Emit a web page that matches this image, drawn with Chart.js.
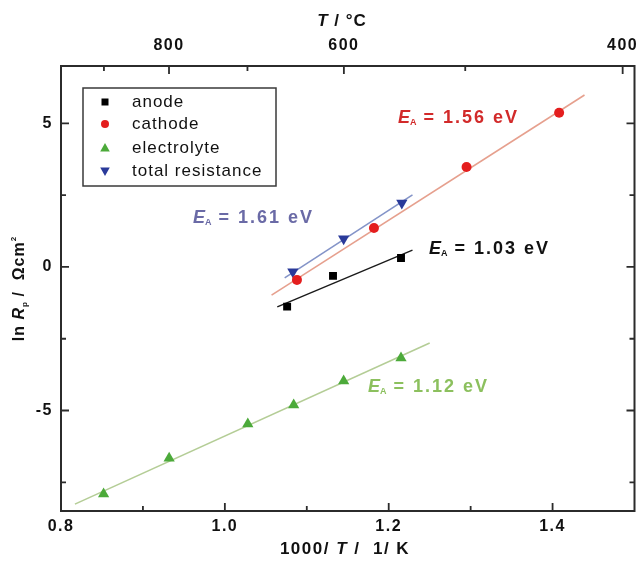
<!DOCTYPE html>
<html>
<head>
<meta charset="utf-8">
<script src="https://cdn.jsdelivr.net/npm/chart.js@4/dist/chart.umd.min.js"></script>
<style>
  html, body { margin: 0; padding: 0; background: #ffffff; }
  #c { display: block; }
</style>
</head>
<body>
<canvas id="c" width="641" height="561"></canvas>
<script>
// ---------- data ----------
const anodeX = [1.076, 1.132, 1.215];
const anodeY = [-1.38, -0.31, 0.31];
const cathodeX = [1.088, 1.182, 1.295, 1.408];
const cathodeY = [-0.45, 1.36, 3.48, 5.37];
const electrolyteX = [0.852, 0.932, 1.028, 1.084, 1.145, 1.215];
const electrolyteY = [-7.91, -6.66, -5.47, -4.81, -3.97, -3.17];
const totalX = [1.083, 1.145, 1.216];
const totalY = [-0.17, 0.98, 2.23];

// fitted lines (end points)
const anodeFitX = [1.064, 1.229];
const anodeFitY = [-1.39, 0.59];
const cathodeFitX = [1.057, 1.439];
const cathodeFitY = [-0.98, 5.99];
const electrolyteFitX = [0.817, 1.250];
const electrolyteFitY = [-8.26, -2.65];
const totalFitX = [1.073, 1.229];
const totalFitY = [-0.38, 2.51];

const seriesLabels = ['anode', 'cathode', 'electrolyte', 'total resistance'];
const eaLabels = ['1.03', '1.56', '1.12', '1.61'];

// axis ticks
const xTickValues = [0.8, 1.0, 1.2, 1.4];
const xMinorTicks = [0.9, 1.1, 1.3];
const yTickValues = [-5, 0, 5];
const yMinorTicks = [-7.5, -2.5, 2.5];
const topTickCelsius = [900, 800, 700, 600, 500, 400];
const topLabelCelsius = [800, 600, 400];

const pts = (xs, ys) => xs.map((x, i) => ({ x: x, y: ys[i] }));

const COLORS = {
  anode: '#000000', anodeLine: '#1a1a1a', anodeText: '#111111',
  cathode: '#e41e1e', cathodeLine: '#e6a08e', cathodeText: '#d22a2a',
  electrolyte: '#4caa3a', electrolyteLine: '#b4cd96', electrolyteText: '#8cc05e',
  total: '#2a3a9a', totalLine: '#8494c8', totalText: '#6a6aa6'
};

const FONT = '"Liberation Sans", Arial, sans-serif';

function drawRuns(ctx, runs, x, y, align) {
  let total = 0;
  runs.forEach(r => {
    ctx.font = r.font;
    ctx.letterSpacing = r.ls || '0px';
    r.w = ctx.measureText(r.t).width;
    total += r.w;
  });
  let cx = align === 'center' ? x - total / 2 : x;
  ctx.textAlign = 'left';
  runs.forEach(r => {
    ctx.font = r.font;
    ctx.letterSpacing = r.ls || '0px';
    ctx.fillText(r.t, cx, y + (r.dy || 0));
    cx += r.w;
  });
  ctx.letterSpacing = '0px';
}

const decorPlugin = {
  id: 'decor',
  beforeDraw(chart) {
    chart.ctx.letterSpacing = '1.5px';
  },
  afterDatasetsDraw(chart) {
    const ctx = chart.ctx;
    const a = chart.chartArea;
    const xs = chart.scales.x, ys = chart.scales.y, xt = chart.scales.x2;
    ctx.save();
    ctx.letterSpacing = '0px';
    // frame
    ctx.strokeStyle = '#2b2b2b';
    ctx.lineWidth = 2;
    ctx.strokeRect(a.left, a.top, a.right - a.left, a.bottom - a.top);
    // inward ticks
    ctx.lineWidth = 1.8;
    ctx.beginPath();
    const major = 8, minor = 5;
    xTickValues.forEach(v => { const p = xs.getPixelForValue(v); ctx.moveTo(p, a.bottom); ctx.lineTo(p, a.bottom - major); });
    xMinorTicks.forEach(v => { const p = xs.getPixelForValue(v); ctx.moveTo(p, a.bottom); ctx.lineTo(p, a.bottom - minor); });
    topTickCelsius.forEach(c => {
      const p = xt.getPixelForValue(1000 / (c + 273.15));
      const len = topLabelCelsius.includes(c) ? major : minor;
      ctx.moveTo(p, a.top); ctx.lineTo(p, a.top + len);
    });
    yTickValues.forEach(v => {
      const p = ys.getPixelForValue(v);
      ctx.moveTo(a.left, p); ctx.lineTo(a.left + major, p);
      ctx.moveTo(a.right, p); ctx.lineTo(a.right - major, p);
    });
    yMinorTicks.forEach(v => {
      const p = ys.getPixelForValue(v);
      ctx.moveTo(a.left, p); ctx.lineTo(a.left + minor, p);
      ctx.moveTo(a.right, p); ctx.lineTo(a.right - minor, p);
    });
    ctx.stroke();

    // axis titles
    ctx.fillStyle = '#111111';
    ctx.textBaseline = 'middle';
    drawRuns(ctx, [
      { t: '1000/ ', font: 'bold 17px ' + FONT, ls: '1.5px' },
      { t: 'T', font: 'italic bold 17px ' + FONT, ls: '1.5px' },
      { t: ' /  1/ K', font: 'bold 17px ' + FONT, ls: '1.5px' }
    ], 345, 549, 'center');
    drawRuns(ctx, [
      { t: 'T', font: 'italic bold 17px ' + FONT, ls: '1px' },
      { t: ' / °C', font: 'bold 17px ' + FONT, ls: '1px' }
    ], 342, 21, 'center');
    ctx.save();
    ctx.translate(20, 289);
    ctx.rotate(-Math.PI / 2);
    drawRuns(ctx, [
      { t: 'ln ', font: 'bold 16px ' + FONT, ls: '1px' },
      { t: 'R', font: 'italic bold 16px ' + FONT, ls: '1px' },
      { t: 'p', font: 'bold 8px ' + FONT, dy: 5 },
      { t: ' /  Ωcm', font: 'bold 16px ' + FONT, ls: '1px' },
      { t: '2', font: 'bold 8px ' + FONT, dy: -6 }
    ], 0, 0, 'center');
    ctx.restore();

    // activation energy annotations
    const ann = [
      { v: eaLabels[1], c: COLORS.cathodeText, x: 398, y: 118 },
      { v: eaLabels[3], c: COLORS.totalText, x: 193, y: 218 },
      { v: eaLabels[0], c: COLORS.anodeText, x: 429, y: 249 },
      { v: eaLabels[2], c: COLORS.electrolyteText, x: 368, y: 387 }
    ];
    ann.forEach(o => {
      ctx.fillStyle = o.c;
      drawRuns(ctx, [
        { t: 'E', font: 'italic bold 18px ' + FONT, ls: '0px' },
        { t: 'A', font: 'bold 9px ' + FONT, dy: 5, ls: '0px' },
        { t: ' = ' + o.v + ' eV', font: 'bold 18px ' + FONT, ls: '2px' }
      ], o.x, o.y, 'left');
    });

    // legend box
    const lx = 83, ly = 88, lw = 193, lh = 98;
    ctx.fillStyle = '#ffffff';
    ctx.fillRect(lx, ly, lw, lh);
    ctx.strokeStyle = '#3a3a3a';
    ctx.lineWidth = 1.5;
    ctx.strokeRect(lx, ly, lw, lh);
    const rowsY = [102, 124, 148, 171];
    const mx = 105;
    const ds = chart.data.datasets;
    for (let i = 0; i < 4; i++) {
      const y = rowsY[i];
      ctx.fillStyle = ds[i].backgroundColor;
      ctx.beginPath();
      if (i === 0) {
        ctx.rect(mx - 3.5, y - 3.5, 7, 7);
      } else if (i === 1) {
        ctx.arc(mx, y, 4, 0, Math.PI * 2);
      } else if (i === 2) {
        ctx.moveTo(mx, y - 5); ctx.lineTo(mx + 4.8, y + 3.5); ctx.lineTo(mx - 4.8, y + 3.5); ctx.closePath();
      } else {
        ctx.moveTo(mx, y + 5); ctx.lineTo(mx + 4.8, y - 3.5); ctx.lineTo(mx - 4.8, y - 3.5); ctx.closePath();
      }
      ctx.fill();
      ctx.fillStyle = '#111111';
      ctx.font = '17px ' + FONT;
      ctx.letterSpacing = '1px';
      ctx.textAlign = 'left';
      ctx.textBaseline = 'middle';
      ctx.fillText(ds[i].label, 132, y);
      ctx.letterSpacing = '0px';
    }
    ctx.restore();
  }
};

const tickFont = { family: FONT, size: 16, weight: 'bold' };
const noPadX = s => { s.paddingLeft = 0; s.paddingRight = 0; };

new Chart(document.getElementById('c'), {
  type: 'scatter',
  data: {
    datasets: [
      { label: seriesLabels[0], data: pts(anodeX, anodeY), pointStyle: 'rect', pointRadius: 5.6,
        backgroundColor: COLORS.anode, borderColor: COLORS.anode, pointBorderWidth: 0 },
      { label: seriesLabels[1], data: pts(cathodeX, cathodeY), pointStyle: 'circle', pointRadius: 5,
        backgroundColor: COLORS.cathode, borderColor: COLORS.cathode, pointBorderWidth: 0 },
      { label: seriesLabels[2], data: pts(electrolyteX, electrolyteY), pointStyle: 'triangle', pointRadius: 6.5,
        backgroundColor: COLORS.electrolyte, borderColor: COLORS.electrolyte, pointBorderWidth: 0 },
      { label: seriesLabels[3], data: pts(totalX, totalY), pointStyle: 'triangle', pointRotation: 180, pointRadius: 6.5,
        backgroundColor: COLORS.total, borderColor: COLORS.total, pointBorderWidth: 0 },
      { label: 'anode fit', data: pts(anodeFitX, anodeFitY), showLine: true, pointRadius: 0,
        borderColor: COLORS.anodeLine, borderWidth: 1.4, backgroundColor: COLORS.anodeLine },
      { label: 'cathode fit', data: pts(cathodeFitX, cathodeFitY), showLine: true, pointRadius: 0,
        borderColor: COLORS.cathodeLine, borderWidth: 1.6, backgroundColor: COLORS.cathodeLine },
      { label: 'electrolyte fit', data: pts(electrolyteFitX, electrolyteFitY), showLine: true, pointRadius: 0,
        borderColor: COLORS.electrolyteLine, borderWidth: 1.6, backgroundColor: COLORS.electrolyteLine },
      { label: 'total fit', data: pts(totalFitX, totalFitY), showLine: true, pointRadius: 0,
        borderColor: COLORS.totalLine, borderWidth: 1.6, backgroundColor: COLORS.totalLine }
    ]
  },
  options: {
    responsive: false,
    animation: false,
    devicePixelRatio: 1,
    layout: { padding: { left: 0, right: 6, top: 0, bottom: 0 } },
    plugins: { legend: { display: false }, tooltip: { enabled: false }, title: { display: false } },
    scales: {
      x: {
        type: 'linear', position: 'bottom', min: 0.8, max: 1.5,
        grid: { display: false, drawTicks: false }, border: { display: false },
        afterBuildTicks: s => { s.ticks = xTickValues.map(v => ({ value: v })); },
        afterFit: s => { s.height = 50; noPadX(s); },
        ticks: { color: '#111111', font: tickFont, padding: 6, autoSkip: false, maxRotation: 0,
                 callback: v => Number(v).toFixed(1) }
      },
      x2: {
        type: 'linear', position: 'top', min: 0.8, max: 1.5,
        grid: { display: false, drawTicks: false }, border: { display: false },
        afterBuildTicks: s => { s.ticks = topTickCelsius.map(c => ({ value: 1000 / (c + 273.15) })); },
        afterFit: s => { s.height = 66; noPadX(s); },
        ticks: { color: '#111111', font: tickFont, padding: 11, autoSkip: false, maxRotation: 0,
                 callback: v => { const c = Math.round(1000 / v - 273.15); return topLabelCelsius.includes(c) ? String(c) : ''; } }
      },
      y: {
        type: 'linear', position: 'left', min: -8.5, max: 7,
        grid: { display: false, drawTicks: false }, border: { display: false },
        afterBuildTicks: s => { s.ticks = yTickValues.map(v => ({ value: v })); },
        afterFit: s => { s.width = 61; s.paddingTop = 0; s.paddingBottom = 0; },
        ticks: { color: '#111111', font: tickFont, padding: 8, autoSkip: false,
                 callback: v => String(v) }
      }
    }
  },
  plugins: [decorPlugin]
});
</script>
</body>
</html>
